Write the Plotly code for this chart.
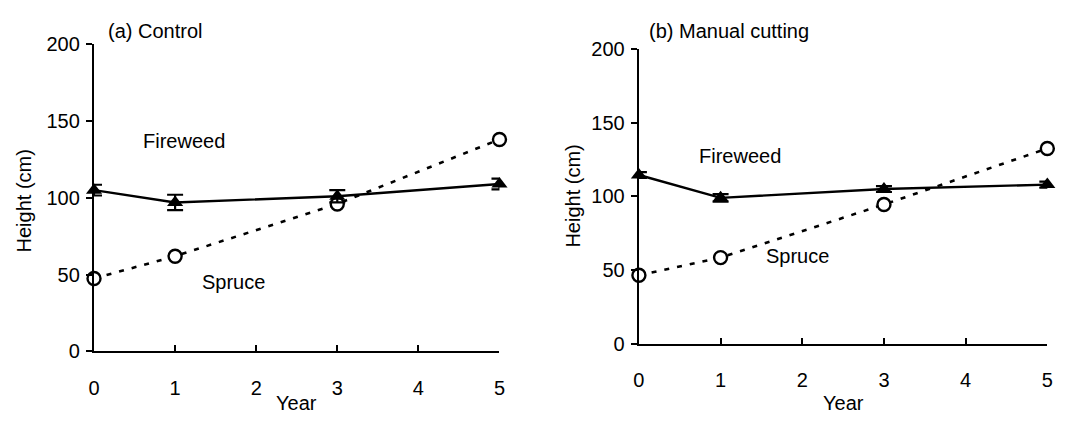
import plotly.graph_objects as go
from plotly.subplots import make_subplots

years = [0, 1, 3, 5]
ctrl_fireweed = [105, 97, 101, 109]
ctrl_fireweed_err = [3.5, 5, 4, 3.5]
ctrl_spruce = [47.5, 62, 96, 138]
ctrl_spruce_err = [1.5, 1.5, 2, 2]
cut_fireweed = [114.5, 99, 105, 108]
cut_fireweed_err = [2, 2.5, 2, 2]
cut_spruce = [46.5, 58.5, 94.5, 132.5]
cut_spruce_err = [1.5, 2, 2, 2]
x_ticks = [0, 1, 2, 3, 4, 5]
y_ticks = [0, 50, 100, 150, 200]

FONT = "Liberation Sans, Arial, sans-serif"
FS = 20
W, H = 1083, 426

fig = make_subplots(rows=1, cols=2)

def add_panel(col, fw, fw_err, sp, sp_err):
    fig.add_trace(go.Scatter(
        x=years, y=sp, mode="lines+markers",
        line=dict(color="black", width=2.6, dash="5px,8px"),
        marker=dict(symbol="circle", size=13, color="white", line=dict(color="black", width=2.4)),
        error_y=dict(type="data", array=sp_err, color="black", thickness=2, width=4),
        cliponaxis=False, showlegend=False), row=1, col=col)
    fig.add_trace(go.Scatter(
        x=years, y=fw, mode="lines+markers",
        line=dict(color="black", width=2.4),
        marker=dict(symbol="triangle-up", size=14, color="black"),
        error_y=dict(type="data", array=fw_err, color="black", thickness=2.2, width=8),
        cliponaxis=False, showlegend=False), row=1, col=col)

add_panel(1, ctrl_fireweed, ctrl_fireweed_err, ctrl_spruce, ctrl_spruce_err)
add_panel(2, cut_fireweed, cut_fireweed_err, cut_spruce, cut_spruce_err)

axis_common = dict(showgrid=False, zeroline=False, showline=True, linecolor="black",
                   linewidth=2.4, ticklen=6, tickwidth=2.2, tickcolor="black",
                   tickfont=dict(family=FONT, size=FS, color="black"))

fig.update_xaxes(range=[0, 5], tickvals=x_ticks, ticks="inside", ticklabelstandoff=17,
                 **axis_common)
fig.update_yaxes(range=[0, 200], tickvals=y_ticks, ticks="outside", ticklabelstandoff=2,
                 **axis_common)

fig.update_layout(
    xaxis=dict(domain=[89 / W, 499 / W]),
    yaxis=dict(domain=[67 / H, 391 / H]),
    xaxis2=dict(domain=[640 / W, 1053 / W]),
    yaxis2=dict(domain=[75 / H, 386 / H]),
)

ann = []
def txt(x, y, t, xref="paper", yref="paper", xanchor="left", angle=0):
    ann.append(dict(x=x, y=y, text=t, xref=xref, yref=yref, showarrow=False,
                    xanchor=xanchor, yanchor="middle", textangle=angle,
                    font=dict(family=FONT, size=FS, color="black")))

txt(101 / W, 1 - 21 / H, "(a) Control")
txt(648 / W, 1 - 21 / H, "(b) Manual cutting")
txt(0.58, 137, "Fireweed", "x", "y")
txt(1.31, 45, "Spruce", "x", "y")
txt(0.71, 127.5, "Fireweed", "x2", "y2")
txt(1.53, 59.5, "Spruce", "x2", "y2")
txt(294 / W, 1 - 413 / H, "Year", xanchor="center")
txt(847 / W, 1 - 413 / H, "Year", xanchor="center")
txt(18 / W, 1 - 200 / H, "Height (cm)", xanchor="center", angle=-90)
txt(573 / W, 1 - 195 / H, "Height (cm)", xanchor="center", angle=-90)

fig.update_layout(annotations=ann, width=W, height=H,
                  margin=dict(l=0, r=0, t=0, b=0),
                  plot_bgcolor="white", paper_bgcolor="white")

fig.write_html("out.html")
